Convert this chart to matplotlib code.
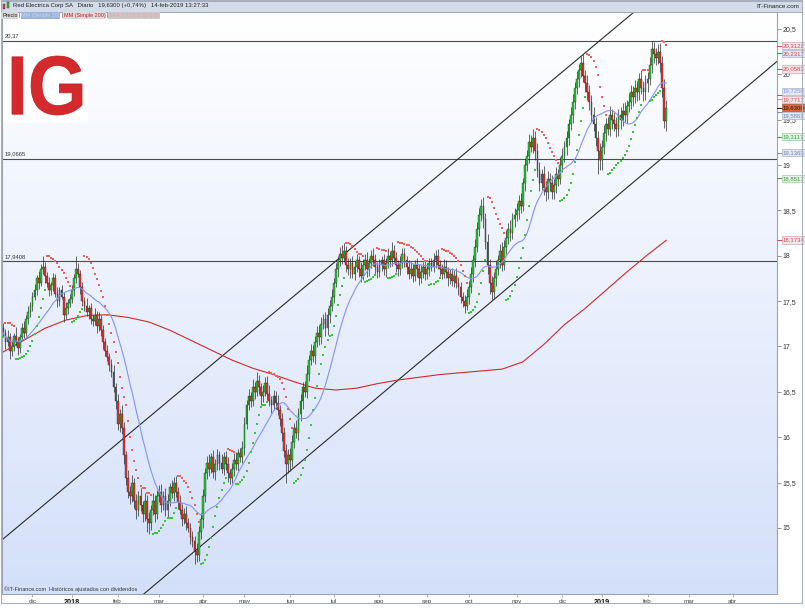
import numpy as np
import pandas as pd
import matplotlib
matplotlib.use("Agg")
import matplotlib.pyplot as plt
from matplotlib.patches import Rectangle, PathPatch
from matplotlib.textpath import TextPath
from matplotlib.font_manager import FontProperties
from matplotlib.transforms import Affine2D
from matplotlib.colors import LinearSegmentedColormap
from pandas.tseries.offsets import CustomBusinessDay

plt.rcParams['font.family'] = ['Liberation Sans', 'DejaVu Sans']

# ---------------- data ----------------
start_date = '2017-11-13'
market_holidays = ['2017-12-25', '2017-12-26', '2018-01-01', '2018-03-30', '2018-04-02',
                   '2018-05-01', '2018-12-25', '2018-12-26', '2019-01-01', '2019-04-19',
                   '2019-04-22', '2019-05-01']

first_open = 17.20
close_nov17 = [17.15, 17.05, 17.10, 16.95, 17.00, 17.12, 17.05, 16.98, 17.10, 17.20, 17.15, 17.30, 17.38, 17.45]
close_dec17 = [17.55, 17.62, 17.75, 17.70, 17.85, 17.88, 17.78, 17.70, 17.62, 17.68, 17.75, 17.58, 17.50, 17.62, 17.55, 17.35, 17.42, 17.48, 17.52]
close_jan18 = [17.62, 17.75, 17.85, 17.80, 17.65, 17.50, 17.45, 17.38, 17.42, 17.30, 17.28, 17.35, 17.22, 17.30, 17.18, 17.05, 16.95, 16.88, 16.80, 16.72, 16.55, 16.40]
close_feb18 = [16.15, 16.25, 16.10, 15.80, 15.55, 15.40, 15.35, 15.50, 15.30, 15.20, 15.35, 15.25, 15.15, 15.30, 15.10, 15.05, 15.20, 15.30, 15.15, 15.35]
close_mar18 = [15.40, 15.25, 15.35, 15.20, 15.30, 15.45, 15.38, 15.50, 15.40, 15.28, 15.20, 15.10, 15.15, 15.05, 15.00, 14.90, 14.85, 14.75, 14.70, 14.95, 15.10]
close_apr18 = [15.35, 15.60, 15.72, 15.65, 15.78, 15.62, 15.70, 15.80, 15.72, 15.65, 15.78, 15.70, 15.60, 15.55, 15.65, 15.75, 15.70, 15.82, 15.78, 15.88]
close_may18 = [16.15, 16.35, 16.45, 16.40, 16.55, 16.50, 16.62, 16.55, 16.45, 16.50, 16.60, 16.48, 16.40, 16.35, 16.45, 16.38, 16.30, 16.20, 16.05, 15.85, 15.70, 15.80]
close_jun18 = [15.75, 15.95, 16.10, 16.05, 16.25, 16.40, 16.55, 16.50, 16.70, 16.85, 16.95, 16.90, 17.05, 17.15, 17.10, 17.25, 17.30, 17.20, 17.35, 17.45, 17.55]
close_jul18 = [17.70, 17.85, 17.95, 18.02, 17.98, 18.05, 17.90, 17.85, 17.92, 17.80, 17.88, 17.95, 17.85, 17.78, 17.90, 17.95, 17.85, 17.92, 18.00, 17.95, 17.88, 17.82]
close_aug18 = [17.90, 17.95, 17.85, 17.92, 18.00, 17.95, 18.05, 17.98, 17.90, 17.85, 17.92, 18.02, 17.95, 17.88, 17.80, 17.85, 17.78, 17.90, 17.85, 17.75, 17.82, 17.88, 17.80]
close_sep18 = [17.85, 17.92, 17.88, 17.95, 18.00, 17.90, 17.85, 17.80, 17.88, 17.82, 17.75, 17.80, 17.72, 17.78, 17.70, 17.65, 17.55, 17.50, 17.45, 17.55]
close_oct18 = [17.65, 17.80, 17.95, 18.10, 18.30, 18.45, 18.55, 18.40, 18.15, 17.90, 17.70, 17.60, 17.75, 17.85, 17.95, 18.05, 17.90, 18.10, 18.20, 18.30, 18.25, 18.40, 18.45]
close_nov18 = [18.50, 18.60, 18.55, 18.80, 19.00, 19.10, 19.25, 19.20, 19.30, 19.15, 18.95, 18.80, 18.90, 18.75, 18.70, 18.85, 18.80, 18.70, 18.78, 18.90, 18.85, 19.00]
close_dec18 = [19.10, 19.20, 19.30, 19.45, 19.55, 19.70, 19.85, 19.95, 20.05, 20.12, 19.98, 19.90, 19.80, 19.70, 19.55, 19.45, 19.30, 19.15, 19.05]
close_jan19 = [19.20, 19.35, 19.45, 19.40, 19.55, 19.50, 19.45, 19.40, 19.55, 19.50, 19.60, 19.55, 19.65, 19.70, 19.80, 19.75, 19.85, 19.80, 19.95, 19.85, 19.80, 19.90]
close_feb19 = [19.95, 20.10, 20.28, 20.22, 20.18, 20.25, 20.12, 19.85, 19.49, 19.63]

# upper / lower shadows (hundredths of euro beyond the body)
uw_nov17 = [6, 4, 8, 5, 7, 3, 9, 5, 4, 6, 8, 5, 7, 4]
lw_nov17 = [5, 8, 4, 9, 6, 5, 4, 7, 5, 3, 6, 4, 5, 6]
uw_dec17 = [5, 7, 4, 8, 6, 12, 5, 4, 7, 3, 6, 5, 8, 4, 6, 5, 7, 4, 6]
lw_dec17 = [6, 4, 5, 7, 3, 5, 8, 4, 6, 5, 7, 4, 6, 5, 3, 8, 5, 6, 4]
uw_jan18 = [6, 5, 15, 7, 4, 6, 5, 8, 4, 6, 5, 7, 4, 8, 5, 6, 4, 7, 5, 6, 8, 5]
lw_jan18 = [4, 6, 5, 3, 7, 5, 6, 4, 8, 5, 6, 4, 7, 5, 6, 8, 5, 4, 7, 6, 5, 9]
uw_feb18 = [8, 6, 10, 7, 5, 9, 6, 8, 5, 7, 6, 9, 5, 8, 6, 7, 5, 8, 6, 7]
lw_feb18 = [7, 9, 6, 10, 8, 7, 9, 6, 8, 10, 7, 6, 9, 7, 15, 12, 7, 6, 9, 5]
uw_mar18 = [7, 8, 6, 9, 7, 5, 8, 6, 7, 5, 8, 6, 7, 9, 6, 5, 7, 6, 8, 7, 6]
lw_mar18 = [6, 8, 5, 7, 9, 6, 5, 8, 6, 7, 5, 8, 6, 7, 5, 8, 6, 15, 8, 6, 7]
uw_apr18 = [8, 6, 7, 9, 5, 8, 6, 7, 5, 9, 6, 7, 8, 5, 6, 7, 9, 5, 6, 8]
lw_apr18 = [10, 7, 6, 8, 5, 7, 9, 6, 8, 5, 7, 6, 9, 7, 5, 8, 6, 7, 5, 6]
uw_may18 = [7, 6, 8, 5, 9, 6, 10, 7, 5, 8, 6, 7, 9, 5, 7, 6, 8, 5, 7, 6, 8, 7]
lw_may18 = [8, 6, 5, 7, 6, 8, 5, 7, 9, 6, 5, 7, 6, 8, 5, 7, 6, 8, 9, 7, 20, 10]
uw_jun18 = [8, 7, 6, 9, 7, 8, 6, 7, 9, 6, 8, 7, 6, 8, 9, 7, 6, 8, 7, 6, 8]
lw_jun18 = [12, 8, 7, 6, 8, 7, 9, 6, 7, 8, 6, 7, 9, 6, 8, 7, 6, 8, 7, 9, 6]
uw_jul18 = [6, 7, 5, 8, 10, 9, 6, 7, 5, 8, 6, 7, 5, 8, 6, 7, 9, 5, 6, 8, 7, 5]
lw_jul18 = [7, 5, 8, 6, 7, 5, 8, 6, 9, 5, 7, 6, 8, 7, 5, 6, 8, 7, 5, 6, 8, 7]
uw_aug18 = [6, 5, 7, 6, 8, 5, 10, 7, 6, 5, 8, 7, 6, 5, 7, 8, 6, 5, 7, 6, 8, 5, 6]
lw_aug18 = [5, 7, 6, 8, 5, 7, 6, 5, 8, 7, 6, 5, 7, 8, 6, 5, 7, 6, 8, 7, 5, 6, 7]
uw_sep18 = [7, 6, 5, 8, 6, 7, 5, 6, 8, 7, 6, 5, 7, 6, 8, 7, 6, 5, 7, 8]
lw_sep18 = [6, 7, 5, 6, 8, 5, 7, 6, 5, 7, 8, 6, 5, 7, 6, 8, 7, 6, 8, 5]
uw_oct18 = [7, 8, 6, 9, 7, 8, 8, 10, 7, 9, 6, 8, 7, 9, 6, 8, 10, 7, 8, 6, 9, 7, 8]
lw_oct18 = [8, 6, 9, 7, 6, 8, 7, 9, 8, 10, 12, 9, 7, 8, 6, 9, 7, 6, 8, 7, 9, 6, 8]
uw_nov18 = [8, 7, 9, 6, 8, 7, 9, 8, 10, 7, 9, 8, 6, 9, 7, 8, 6, 9, 7, 8, 6, 9]
lw_nov18 = [7, 9, 8, 6, 9, 7, 8, 6, 7, 10, 8, 9, 7, 8, 10, 7, 9, 8, 7, 9, 8, 6]
uw_dec18 = [9, 7, 8, 6, 9, 8, 7, 9, 6, 8, 10, 7, 9, 8, 7, 9, 8, 7, 9]
lw_dec18 = [8, 7, 9, 8, 6, 9, 8, 7, 9, 8, 7, 10, 8, 9, 7, 8, 9, 25, 10]
uw_jan19 = [8, 9, 7, 8, 10, 7, 9, 8, 7, 9, 8, 10, 7, 9, 8, 7, 9, 8, 7, 10, 8, 9]
lw_jan19 = [10, 8, 9, 7, 8, 10, 7, 9, 8, 10, 7, 8, 9, 7, 8, 10, 7, 9, 8, 7, 9, 8]
uw_feb19 = [8, 9, 9, 8, 7, 8, 9, 8, 10, 9]
lw_feb19 = [9, 7, 8, 10, 8, 7, 9, 10, 8, 12]

# 200-day moving average (trading-day number, value)
mm200_day = [0, 10, 20, 30, 40, 50, 60, 70, 80, 90, 100, 110, 120, 130, 140, 150, 160, 170,
             180, 190, 200, 210, 220, 230, 240, 250, 260, 270, 280, 290, 300, 310, 319]
mm200_val = [16.94, 17.07, 17.20, 17.29, 17.34, 17.35, 17.32, 17.27, 17.18, 17.07, 16.96, 16.85,
             16.76, 16.69, 16.61, 16.54, 16.52, 16.54, 16.59, 16.63, 16.66, 16.69, 16.71, 16.73,
             16.75, 16.83, 17.02, 17.24, 17.42, 17.62, 17.82, 18.01, 18.17]

# channel lines (date, price) and horizontal levels
upper_channel = [('2017-11-13', 14.88), ('2019-01-18', 20.62)]
lower_channel = [('2018-02-19', 14.26), ('2019-02-14', 19.115)]
levels = [20.37, 19.0665, 17.9408]
level_labels = ['20,37', '19,0665', '17,9408']

tick_months = ['2017-12', '2018-01', '2018-02', '2018-03', '2018-04', '2018-05', '2018-06',
               '2018-07', '2018-08', '2018-09', '2018-10', '2018-11', '2018-12', '2019-01',
               '2019-02', '2019-03', '2019-04']
month_names = {1: 'ene', 2: 'feb', 3: 'mar', 4: 'abr', 5: 'may', 6: 'jun', 7: 'jul',
               8: 'ago', 9: 'sep', 10: 'oct', 11: 'nov', 12: 'dic'}

# right-hand value labels (text, value, text colour, box colour, edge colour)
right_labels = [
    ('20,3122', 20.3122, '#d8484a', '#f3e7ec', '#d5a5ad'),
    ('20,2317', 20.2317, '#d8484a', '#dfe6f4', '#a9b2c6'),
    ('20,0583', 20.0583, '#d8484a', '#f3e7ec', '#d5a5ad'),
    ('19,7250', 19.7250, '#8796e6', '#e4eaf8', '#a9b2c6'),
    ('19,7717', 19.7717, '#d8484a', '#f3e7ec', '#d5a5ad'),
    ('19,6300', 19.6300, '#3a1408', '#d9673d', '#a8482a'),
    ('19,5863', 19.5863, '#7d8db0', '#dfe6f4', '#a9b2c6'),
    ('19,3117', 19.3117, '#2ea82e', '#e6f1e8', '#a5c4a8'),
    ('19,1363', 19.1363, '#7d8db0', '#dfe6f4', '#a9b2c6'),
    ('18,8517', 18.8517, '#2ea82e', '#e6f1e8', '#a5c4a8'),
    ('18,1734', 18.1734, '#d8484a', '#f3e7ec', '#d5a5ad'),
]

# ---------------- assemble ----------------
closes = np.array(close_nov17 + close_dec17 + close_jan18 + close_feb18 + close_mar18 + close_apr18 +
                  close_may18 + close_jun18 + close_jul18 + close_aug18 + close_sep18 + close_oct18 +
                  close_nov18 + close_dec18 + close_jan19 + close_feb19)
uw = np.array(uw_nov17 + uw_dec17 + uw_jan18 + uw_feb18 + uw_mar18 + uw_apr18 + uw_may18 + uw_jun18 +
              uw_jul18 + uw_aug18 + uw_sep18 + uw_oct18 + uw_nov18 + uw_dec18 + uw_jan19 + uw_feb19) / 100.0
lw = np.array(lw_nov17 + lw_dec17 + lw_jan18 + lw_feb18 + lw_mar18 + lw_apr18 + lw_may18 + lw_jun18 +
              lw_jul18 + lw_aug18 + lw_sep18 + lw_oct18 + lw_nov18 + lw_dec18 + lw_jan19 + lw_feb19) / 100.0
n = min(len(closes), len(uw), len(lw))
closes = closes[:n]; uw = uw[:n]; lw = lw[:n]
opens = np.concatenate([[first_open], closes[:-1]])
highs = np.maximum(opens, closes) + uw
lows = np.minimum(opens, closes) - lw
xs = np.arange(n)

cal = pd.date_range(start_date, '2019-06-28', freq=CustomBusinessDay(holidays=market_holidays))
cal_idx = {d.strftime('%Y-%m-%d'): i for i, d in enumerate(cal)}
ym = np.array([d.strftime('%Y-%m') for d in cal])

def day_of(s):
    return cal_idx[s]

# SMA 20
sma20 = pd.Series(closes).rolling(20, min_periods=1).mean().values

# Parabolic SAR (0.02, 0.02, 0.2)
def psar(h, l, af0=0.02, step=0.02, afmax=0.2):
    m = len(h)
    sar = np.zeros(m); bull = np.zeros(m, bool)
    bull[0] = True; ep = h[0]; sar[0] = l[0]; af = af0
    for i in range(1, m):
        prev = sar[i - 1]
        s = prev + af * (ep - prev)
        if bull[i - 1]:
            s = min(s, l[i - 1], l[i - 2] if i >= 2 else l[i - 1])
            if l[i] < s:
                bull[i] = False; s = ep; ep = l[i]; af = af0
            else:
                bull[i] = True
                if h[i] > ep:
                    ep = h[i]; af = min(af + step, afmax)
        else:
            s = max(s, h[i - 1], h[i - 2] if i >= 2 else h[i - 1])
            if h[i] > s:
                bull[i] = True; s = ep; ep = h[i]; af = af0
            else:
                bull[i] = False
                if l[i] < ep:
                    ep = l[i]; af = min(af + step, afmax)
        sar[i] = s
    return sar, bull

sar, sar_bull = psar(highs, lows)

# ---------------- figure ----------------
W, H = 805, 614
fig = plt.figure(figsize=(W / 100, H / 100), dpi=100)
fig.patch.set_facecolor('white')

def frect(x0, y0, x1, y1):
    return [x0 / W, 1 - y1 / H, (x1 - x0) / W, (y1 - y0) / H]

rect = frect(2, 12, 777, 594)
bg = fig.add_axes(rect, zorder=0)
bg.axis('off')
cmap = LinearSegmentedColormap.from_list('g', ['#ffffff', '#d4e0fa'])
bg.imshow(np.linspace(0, 1, 256).reshape(-1, 1), aspect='auto', cmap=cmap,
          extent=[0, 1, 0, 1], origin='upper')

ax = fig.add_axes(rect, zorder=1)
ax.set_facecolor('none')
ax.set_xlim(-0.67, 372.3)
ax.set_ylim(14.271, 20.687)

# horizontal levels
for lv, lab in zip(levels, level_labels):
    ax.axhline(lv, color='#4d4d4d', lw=0.8, zorder=2)
    ax.text(0.5, lv + 0.025, lab, fontsize=4.2, color='#333333', ha='left', va='bottom', zorder=6)

# channel lines
for ch in (upper_channel, lower_channel):
    (d1, p1), (d2, p2) = ch
    ax.axline((day_of(d1), p1), (day_of(d2), p2), color='#2a2a2a', lw=0.8, zorder=2)

# moving averages
ax.plot(mm200_day, mm200_val, color='#cc2b2b', lw=0.8, zorder=3)
ax.plot(xs, sma20, color='#8594ee', lw=0.8, zorder=5)

# candles
up = closes >= opens
ax.vlines(xs, lows, highs, color='#2a2a2a', lw=0.5, zorder=4)
body = np.maximum(np.abs(closes - opens), 0.012)
bot = np.minimum(opens, closes)
ax.bar(xs[up], body[up], bottom=bot[up], width=0.85, color='#22cc2c', edgecolor='#1a1a1a', lw=0.25, zorder=4.2)
ax.bar(xs[~up], body[~up], bottom=bot[~up], width=0.85, color='#ee3030', edgecolor='#1a1a1a', lw=0.25, zorder=4.2)

# SAR dots
ax.plot(xs[sar_bull], sar[sar_bull], 's', ms=1.9, color='#3cc43c', mew=0, zorder=6)
ax.plot(xs[~sar_bull], sar[~sar_bull], 's', ms=1.9, color='#ea625c', mew=0, zorder=6)

# axes styling
for sp in ax.spines.values():
    sp.set_color('#9aa4b4'); sp.set_linewidth(0.8)
ax.yaxis.tick_right()
yt = np.arange(15, 20.51, 0.5)
ax.set_yticks(yt)
ax.set_yticklabels([('%g' % v).replace('.', ',') for v in yt])
ax.tick_params(axis='y', length=3, width=0.5, color='#666666', labelsize=5, pad=1.2, labelcolor='#333333')

tpos, tlab = [], []
for m in tick_months:
    i = int(np.argmax(ym == m))
    tpos.append(i)
    y, mo = m.split('-')
    tlab.append(y if mo == '01' else month_names[int(mo)])
ax.set_xticks(tpos)
ax.set_xticklabels(tlab)
ax.tick_params(axis='x', length=2.5, width=0.5, color='#8a94a4', labelsize=4.6, pad=0.8, labelcolor='#444444')
for t in ax.get_xticklabels():
    if t.get_text().isdigit():
        t.set_fontweight('bold'); t.set_color('#111111'); t.set_fontsize(5.2)

# right value labels with de-overlap
yr = ax.get_ylim()
gap = 8.2 * (yr[1] - yr[0]) / (594 - 12)
pos = [r[1] for r in right_labels]
for _ in range(200):
    for k in range(1, len(pos)):
        if pos[k - 1] - pos[k] < gap:
            d = (gap - (pos[k - 1] - pos[k])) / 2
            pos[k - 1] += d; pos[k] -= d
for (txt, val, tc, fc, ec), p in zip(right_labels, pos):
    ax.plot([1.0, 1.006], [val, val], transform=ax.get_yaxis_transform(), color=tc, lw=0.7,
            clip_on=False, zorder=7)
    ax.text(1.0075, p, txt, transform=ax.get_yaxis_transform(), fontsize=4.3, color=tc,
            ha='left', va='center', zorder=8, clip_on=False,
            bbox=dict(boxstyle='square,pad=0.18', fc=fc, ec=ec, lw=0.5))

# watermark
ax.text(0.002, 0.004, '\u00a9IT-Finance.com  Hist\u00f3ricos ajustados con dividendos', transform=ax.transAxes,
        fontsize=4.0, color='#333333', ha='left', va='bottom', zorder=8)

# ---------------- header ----------------
fig.add_artist(Rectangle((0.5 / W, 1 - 11.5 / H), 801.5 / W, 11.5 / H, transform=fig.transFigure,
                         facecolor='#d3dce8', edgecolor='#9aa6b6', lw=0.6, zorder=2))
fig.add_artist(Rectangle((0.5 / W, 1 - 603 / H), 801.5 / W, 602.5 / H, transform=fig.transFigure,
                         facecolor='none', edgecolor='#a6afbd', lw=0.8, zorder=3))
fig.add_artist(Rectangle((3 / W, 1 - 9 / H), 2.2 / W, 5 / H, transform=fig.transFigure,
                         facecolor='#e04040', edgecolor='#333333', lw=0.3, zorder=4))
fig.add_artist(Rectangle((6.5 / W, 1 - 8 / H), 2.5 / W, 6 / H, transform=fig.transFigure,
                         facecolor='#30c030', edgecolor='#333333', lw=0.3, zorder=4))
fig.text(13 / W, 1 - 6 / H, 'Red Electrica Corp SA   Diario   19,6300 (+0,74%)   14-feb-2019 13:27:33',
         fontsize=4.3, color='#222222', ha='left', va='center', zorder=5)
fig.text(799 / W, 1 - 6 / H, 'IT-Finance.com', fontsize=4.5, color='#222222', ha='right', va='center', zorder=5)

legend_items = [('Precio', '#222222', '#d6d6d6'),
                ('MM (Simple 20)', '#c9d6f6', '#9db3dc'),
                ('MM (Simple 200)', '#c81e1e', '#dadada'),
                ('SAR ( 0.02 0.02 0.2)', '#f19a9a', '#c9c9c9')]
renderer = fig.canvas.get_renderer()
xcur = 2.0
for txt, tc, fc in legend_items:
    t = fig.text(xcur / W, 1 - 15.5 / H, txt, fontsize=3.9, color=tc, ha='left', va='center', zorder=5,
                 bbox=dict(boxstyle='square,pad=0.12', fc=fc, ec='none'))
    ext = t.get_window_extent(renderer=renderer)
    xcur = ext.x1 + 1.2
    if txt != legend_items[-1][0]:
        fig.text(xcur / W, 1 - 15.5 / H, '|', fontsize=3.9, color='#444444', ha='left', va='center', zorder=5)
        xcur += 2.5

# IG logo
fig.add_artist(Rectangle((3 / W, 1 - 122 / H), 85 / W, 74 / H, transform=fig.transFigure,
                         facecolor='white', edgecolor='none', zorder=4))
tp = TextPath((0, 0), 'IG', size=1, prop=FontProperties(family='Liberation Sans', weight='bold'))
bb = tp.get_extents()
tx0, tx1, ty0, ty1 = 12, 82, 614 - 115, 614 - 56
tr = Affine2D().translate(-bb.x0, -bb.y0).scale((tx1 - tx0) / bb.width, (ty1 - ty0) / bb.height).translate(tx0, ty0)
fig.add_artist(PathPatch(tp, transform=tr, facecolor='#d42a2e', edgecolor='#b81c20', lw=0.5, zorder=5))

fig.savefig('out.png', dpi=100)
